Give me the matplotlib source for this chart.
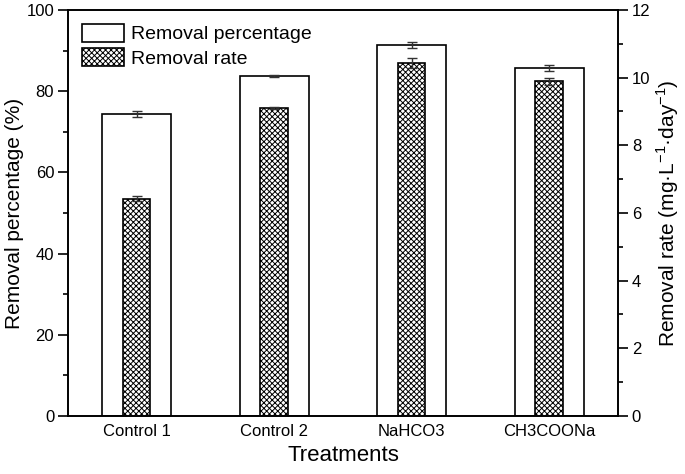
import numpy as np
import matplotlib
matplotlib.use('Agg')
import matplotlib.pyplot as plt
from matplotlib.ticker import MultipleLocator

plt.rcParams['font.family'] = ['Liberation Sans', 'DejaVu Sans']
plt.rcParams['mathtext.fontset'] = 'custom'
plt.rcParams['mathtext.rm'] = 'Liberation Sans'
plt.rcParams['hatch.linewidth'] = 0.7

treatments = ['Control 1', 'Control 2', 'NaHCO3', 'CH3COONa']
removal_pct = [74.4, 83.7, 91.3, 85.7]
removal_pct_err = [0.8, 0.2, 0.7, 0.8]
removal_rate = [6.42, 9.10, 10.44, 9.89]
removal_rate_err = [0.08, 0.03, 0.15, 0.10]

x = np.arange(len(treatments))

fig = plt.figure(figsize=(6.85, 4.74), dpi=100)
ax = fig.add_axes([0.0993, 0.1224, 0.8027, 0.8566])
ax2 = ax.twinx()

b1 = ax.bar(x, removal_pct, width=0.5, color='white', edgecolor='black',
            linewidth=1.2, label='Removal percentage', zorder=2)
ax.errorbar(x, removal_pct, yerr=removal_pct_err, fmt='none', ecolor='#333333',
            elinewidth=1.0, capsize=3.5, capthick=1.0, zorder=3)

b2 = ax2.bar(x, removal_rate, width=0.2, color='white', edgecolor='black',
             hatch='xxxxxx', linewidth=1.2, label='Removal rate', zorder=2)
ax2.errorbar(x, removal_rate, yerr=removal_rate_err, fmt='none', ecolor='#333333',
             elinewidth=1.0, capsize=3.5, capthick=1.0, zorder=3)

ax.set_xlim(-0.5, 3.5)
ax.set_ylim(0, 100)
ax2.set_ylim(0, 12)

ax.set_xticks(x)
ax.set_xticklabels(treatments, fontsize=12)
ax.tick_params(axis='x', length=0, pad=6)
ax.yaxis.set_major_locator(MultipleLocator(20))
ax.yaxis.set_minor_locator(MultipleLocator(10))
ax2.yaxis.set_major_locator(MultipleLocator(2))
ax2.yaxis.set_minor_locator(MultipleLocator(1))
for a in (ax, ax2):
    a.tick_params(axis='y', which='major', direction='out', length=7, width=1.2,
                  labelsize=12, pad=3)
    a.tick_params(axis='y', which='minor', direction='out', length=3.5, width=1.2)
    for s in a.spines.values():
        s.set_linewidth(1.2)

ax.set_xlabel('Treatments', fontsize=16, labelpad=4)
ax.set_ylabel('Removal percentage (%)', fontsize=15, labelpad=2)
ax2.set_ylabel(r'Removal rate (mg·L$^{\mathregular{-1}}$·day$^{\mathregular{-1}}$)',
               fontsize=15, labelpad=3)

ax.legend([b1, b2], ['Removal percentage', 'Removal rate'], loc='upper left',
          frameon=False, fontsize=14, handlelength=2.2, handleheight=1.05,
          labelspacing=0.25, handletextpad=0.35, borderaxespad=0.4,
          borderpad=0.3)

fig.savefig('out.png', dpi=100)
